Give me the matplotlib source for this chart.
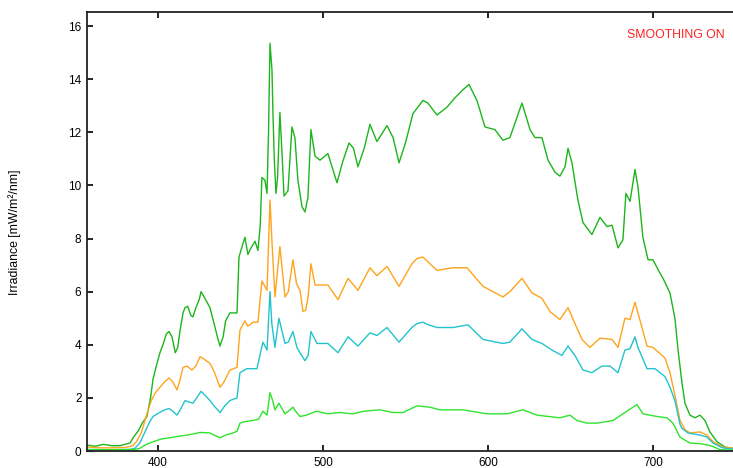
import matplotlib.pyplot as plt

plt.rcParams['font.family'] = ['Liberation Sans', 'DejaVu Sans']

# wavelength [nm] / irradiance [mW/m2/nm]
wl_dg = [357, 362, 367, 372, 377, 383.0, 385.5, 388, 390.5, 393.3, 395.5, 397, 399, 401.2, 403, 405,
         406.7, 408.5, 410.5, 412, 413.3, 415.2, 416.4, 418, 420, 421.2, 423, 425, 426.1, 428, 431.5,
         434, 436, 437.6, 439.5, 441, 443.6, 447.9, 449.1, 450.5, 452.7, 454.5, 456, 458.8, 460.6, 462,
         463, 464.8, 466.1, 467, 467.9, 469.1, 469.7, 470.5, 471.5, 472.5, 473.9, 475.2, 476.4, 478.8,
         481.2, 483.0, 484.8, 487.3, 489.1, 490.9, 492.7, 495.2, 498.2, 503.0, 508.5, 512, 515.8,
         518.5, 521.2, 525, 528.5, 532.7, 538.8, 542.5, 546.1, 550, 554.5, 560.6, 563.6, 569.1, 575.2,
         580.0, 584.8, 588.5, 593.3, 598.2, 604.2, 609.1, 613.3, 616.4, 620.6, 625.5, 628.5, 632.7,
         636.4, 640.6, 643.6, 646.7, 648.5, 650.9, 654.5, 657.6, 663.0, 667.9, 672.1, 675.2, 678.8,
         681.8, 683.6, 686.1, 689.1, 690.9, 693.9, 697.0, 700.0, 704.2, 706.1, 710.3, 713.3, 715.2,
         717.6, 719.4, 722.4, 725.5, 728.5, 731.5, 734.5, 738.8, 743.6, 748.5]
irr_dg = [0.22, 0.18, 0.25, 0.2, 0.2, 0.3, 0.55, 0.75, 1.05, 1.3, 2.0, 2.7, 3.2, 3.7, 4.0, 4.4,
          4.5, 4.3, 3.7, 3.9, 4.5, 5.2, 5.4, 5.45, 5.1, 5.05, 5.4, 5.7, 6.0, 5.8, 5.4,
          4.8, 4.3, 3.95, 4.3, 4.9, 5.2, 5.2, 7.3, 7.6, 8.05, 7.4, 7.6, 7.9, 7.55, 8.5,
          10.3, 10.2, 9.7, 12.0, 15.35, 14.35, 12.7, 11.0, 9.7, 10.3, 12.75, 11.2, 9.6, 9.8,
          12.2, 11.8, 10.2, 9.2, 9.0, 9.55, 12.1, 11.1, 10.95, 11.2, 10.1, 10.9, 11.6,
          11.4, 10.7, 11.4, 12.3, 11.65, 12.25, 11.8, 10.85, 11.6, 12.7, 13.2, 13.1, 12.65, 12.95,
          13.3, 13.6, 13.8, 13.2, 12.2, 12.1, 11.7, 11.8, 12.35, 13.1, 12.1, 11.8, 11.8,
          10.95, 10.5, 10.35, 10.7, 11.4, 10.85, 9.45, 8.6, 8.15, 8.8, 8.45, 8.5, 7.65,
          7.95, 9.7, 9.4, 10.6, 9.95, 8.05, 7.2, 7.2, 6.7, 6.5, 5.95, 5.0, 3.8,
          2.55, 1.8, 1.35, 1.25, 1.35, 1.15, 0.72, 0.35, 0.15, 0.1]

wl_or = [357, 365, 372, 380, 384.8, 387, 390, 393.3, 396, 398.5, 401.2, 404, 406.7, 409, 411.5, 413,
         415.2, 417.5, 420.6, 423, 425.5, 427, 431.5, 434, 437.6, 440, 443.6, 447.9, 449.7, 452.7,
         454.5, 457.6, 460.6, 463.0, 466.1, 467.9, 469, 470.9, 473.9, 477.0, 479, 481.8, 484, 486.1,
         487.9, 489.5, 491, 492.7, 495.2, 503.0, 509.1, 515.2, 521.2, 528.5, 532.7, 538.8, 546.1,
         553.9, 557, 560.6, 564, 569.1, 578.8, 587.3, 597.0, 609.1, 613.3, 620.6, 626.7, 632.7, 637.6,
         643.6, 648.5, 652.7, 657.0, 661.8, 667.9, 675.2, 678.8, 683.0, 686.1, 689.1, 690.9, 696.4,
         700, 707.3, 710.3, 713.3, 716.4, 719.4, 722.4, 728.5, 732.7, 736.4, 742.4, 748.5]
irr_or = [0.15, 0.12, 0.12, 0.13, 0.2, 0.35, 0.7, 1.4, 1.9, 2.2, 2.4, 2.6, 2.75, 2.6, 2.3, 2.6,
          3.15, 3.2, 3.05, 3.2, 3.55, 3.5, 3.3, 3.0, 2.4, 2.6, 3.05, 3.15, 4.55, 4.9,
          4.7, 4.85, 4.85, 6.4, 6.05, 9.45, 8.0, 5.8, 7.7, 5.8, 6.0, 7.2, 6.3, 6.05,
          5.25, 5.3, 5.8, 7.05, 6.25, 6.25, 5.7, 6.5, 6.05, 6.9, 6.6, 6.95, 6.2,
          7.05, 7.25, 7.3, 7.1, 6.8, 6.9, 6.9, 6.2, 5.8, 6.0, 6.5, 5.95, 5.75, 5.25,
          4.95, 5.4, 4.8, 4.2, 3.9, 4.25, 4.2, 3.9, 5.0, 4.95, 5.6, 5.2, 3.95,
          3.9, 3.5, 2.95, 2.1, 1.15, 0.8, 0.68, 0.72, 0.6, 0.35, 0.15, 0.1]

wl_cy = [357, 370, 383, 386, 389, 392, 395, 397, 401, 404, 406.7, 409, 411.5, 413.5, 416.4, 418.5,
         421.2, 423.5, 426.1, 428.5, 431.5, 434, 437.6, 440.5, 443.6, 447.9, 449.7, 453.9, 460.0,
         463.6, 466.1, 467.9, 469, 470.9, 473.3, 477.0, 479, 481.8, 484.2, 486.1, 489.1, 491, 492.7,
         496.4, 503.0, 509.1, 515.2, 521.2, 528.5, 532.7, 538.8, 546.1, 553.9, 557, 560.6, 564, 569.1,
         578.8, 587.9, 597.0, 609.1, 613.3, 620.6, 626.7, 632.7, 638.8, 644.8, 648.5, 652.7, 657.6,
         663.0, 669.1, 673.9, 678.8, 683.0, 686.1, 689.1, 690.9, 696.4, 701.2, 707.3, 710.3, 713.3,
         716.4, 717.6, 721.2, 728.5, 732.7, 736.4, 742, 748.5]
irr_cy = [0.06, 0.05, 0.06, 0.1, 0.3, 0.7, 1.1, 1.3, 1.45, 1.55, 1.6, 1.5, 1.35, 1.55, 1.9, 1.85,
          1.8, 2.0, 2.25, 2.1, 1.9, 1.7, 1.45, 1.7, 1.9, 2.0, 2.95, 3.1, 3.1,
          4.1, 3.8, 6.0, 4.8, 3.9, 5.0, 4.05, 4.1, 4.5, 3.9, 3.7, 3.4, 3.6, 4.5,
          4.05, 4.05, 3.7, 4.3, 3.95, 4.45, 4.35, 4.65, 4.1, 4.65, 4.8, 4.85, 4.75, 4.65,
          4.65, 4.75, 4.2, 4.05, 4.1, 4.6, 4.2, 4.05, 3.8, 3.6, 3.95, 3.6, 3.05,
          2.95, 3.2, 3.2, 2.95, 3.8, 3.85, 4.3, 3.9, 3.1, 3.1, 2.8, 2.4, 1.9,
          1.0, 0.85, 0.68, 0.6, 0.53, 0.3, 0.12, 0.07]

wl_lg = [357, 380, 386, 389, 393, 397, 402, 407.3, 412, 417.6, 422, 425.5, 431.5, 434, 437.6, 441,
         445.5, 448, 449.7, 452, 457.6, 461, 463.6, 466.1, 467.9, 469.5, 470.9, 473.3, 477.0, 479,
         481.8, 484, 486.1, 490, 496, 503, 510, 518, 525, 534.5, 542.4, 548.5, 557.0, 564.8, 570.9,
         584.8, 599.4, 611.5, 621.2, 629.7, 643.6, 649.7, 653.9, 660.0, 666.1, 675.8, 683.0, 690.3,
         693.9, 702.4, 708.5, 712.1, 716.4, 722.4, 728.5, 732.7, 736.4, 740.6, 748.5]
irr_lg = [0.05, 0.05, 0.06, 0.1, 0.25, 0.35, 0.45, 0.5, 0.55, 0.6, 0.65, 0.7, 0.68, 0.6, 0.5, 0.6,
          0.68, 0.75, 1.05, 1.1, 1.15, 1.2, 1.5, 1.35, 2.2, 1.9, 1.55, 1.8, 1.4, 1.5,
          1.65, 1.45, 1.3, 1.35, 1.5, 1.4, 1.45, 1.4, 1.5, 1.55, 1.45, 1.45, 1.7, 1.65, 1.55,
          1.55, 1.4, 1.4, 1.55, 1.35, 1.25, 1.35, 1.15, 1.05, 1.05, 1.15, 1.45, 1.75,
          1.4, 1.3, 1.25, 1.05, 0.52, 0.3, 0.28, 0.23, 0.17, 0.05, 0.03]

xticks = [400, 500, 600, 700]
yticks = [0, 2, 4, 6, 8, 10, 12, 14, 16]

fig = plt.figure(figsize=(7.33, 4.68), dpi=100)
ax = fig.add_axes([0.1187, 0.0363, 0.8813, 0.9381])

ax.plot(wl_dg, irr_dg, color='#1cb51c', lw=1.0)
ax.plot(wl_or, irr_or, color='#ffa41c', lw=1.0)
ax.plot(wl_cy, irr_cy, color='#22c3cc', lw=1.0)
ax.plot(wl_lg, irr_lg, color='#2fe42f', lw=1.0)

ax.set_xlim(357, 748.5)
ax.set_ylim(0, 16.53)
ax.set_xticks(xticks)
ax.set_yticks(yticks)
ax.tick_params(direction='in', length=4, width=1.2, labelsize=8.5, top=True, pad=4)
ax.tick_params(axis='x', labeltop=False)
for s in ['left', 'top', 'bottom']:
    ax.spines[s].set_linewidth(1.3)
    ax.spines[s].set_color('#222222')
ax.spines['right'].set_visible(False)

fig.text(15 / 733, 0.504, 'Irradiance [mW/m²/nm]', rotation=90, ha='center', va='center', fontsize=8.8)
fig.text(676 / 733, 1 - 35 / 468, 'SMOOTHING ON', color='#ff2020', ha='center', va='center', fontsize=8.8)

fig.savefig('out.png', dpi=100)
